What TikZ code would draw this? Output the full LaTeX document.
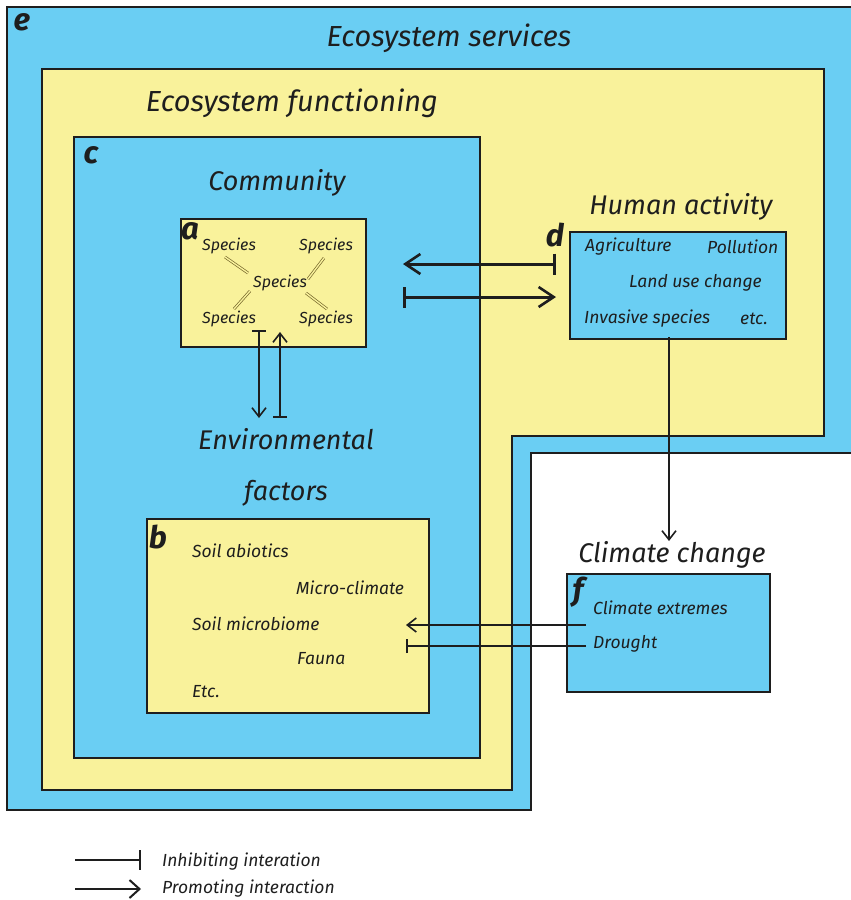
\documentclass[tikz,border=0pt]{standalone}
\usepackage{fontspec}
\setmainfont{Fira Sans}
\usetikzlibrary{arrows.meta}
\definecolor{skyb}{RGB}{106,206,243}
\definecolor{pale}{RGB}{249,242,155}
\definecolor{ink}{RGB}{30,30,30}
\definecolor{olivel}{RGB}{120,105,45}
\tikzset{
  region/.style={draw=ink, line width=2.4pt},
  box/.style={draw=ink, line width=2.4pt, inner sep=0pt, anchor=north west},
  big/.style={font=\fontsize{27}{31}\selectfont\itshape, text=ink, inner sep=0pt},
  huge/.style={font=\fontsize{29}{33}\selectfont\itshape, text=ink, inner sep=0pt},
  small/.style={font=\fontsize{17.5}{20}\selectfont\itshape, text=ink, inner sep=0pt},
  spec/.style={font=\fontsize{16}{19}\selectfont\itshape, text=ink, inner sep=0pt},
  letter/.style={font=\fontsize{31}{34}\selectfont\itshape\bfseries, text=ink, inner sep=0pt},
  bigbarb/.tip={Straight Barb[length=15pt,width=20pt,line width=2.6pt]},
  bigbar/.tip={Bar[width=21pt,line width=2.6pt]},
  barb/.tip={Straight Barb[length=9pt,width=14pt,line width=1.6pt]},
  bar/.tip={Bar[width=14pt,line width=1.6pt]},
  thickc/.style={line width=3pt, draw=ink},
  thinc/.style={line width=1.7pt, draw=ink},
  pair/.style={draw=olivel, line width=0.7pt, double=pale, double distance=1.4pt}
}
\begin{document}
\begin{tikzpicture}[x=1pt,y=-1pt]
\useasboundingbox (0,0) rectangle (851,900);
\fill[white] (0,0) rectangle (851,900);
% e region
\draw[region, fill=skyb] (7,7) -- (858,7) -- (858,453) -- (531,453) -- (531,810) -- (7,810) -- cycle;
% ecosystem functioning region
\draw[region, fill=pale] (42,69) -- (824,69) -- (824,436) -- (512,436) -- (512,790) -- (42,790) -- cycle;
% c
\node[box, fill=skyb, minimum width=406pt, minimum height=621pt] (c) at (73,136) {};
% a
\node[box, fill=pale, minimum width=185pt, minimum height=128pt] (a) at (180,218) {};
% b
\node[box, fill=pale, minimum width=282pt, minimum height=194pt] (b) at (146,518) {};
% d
\node[box, fill=skyb, minimum width=216pt, minimum height=107pt] (d) at (569,231) {};
% f
\node[box, fill=skyb, minimum width=203pt, minimum height=118pt] (f) at (566,573) {};

% titles
\node[huge] (tes) at (449,38) {Ecosystem services};
\node[huge] (tef) at (292,103) {Ecosystem functioning};
\node[big] (tcom) at (277,183) {Community};
\node[big] (tha) at (681,207) {Human activity};
\node[big] (tenv) at (286,439) {Environmental};
\node[big] (tfac) at (286,493) {factors};
\node[big] (tcc) at (672,555) {Climate change};

% letters
\node[letter] (le) at (22,22) {e};
\node[letter] (lc) at (91,155) {c};
\node[letter] (la) at (190,231) {a};
\node[letter] (ld) at (555,235) {d};
\node[letter] (lb) at (158,537) {b};
\node[letter] (lf) at (578,592) {f};

% species
\node[spec] (s1) at (229,246) {Species};
\node[spec] (s2) at (326,246) {Species};
\node[spec] (s0) at (280,283) {Species};
\node[spec] (s3) at (229,319) {Species};
\node[spec] (s4) at (326,319) {Species};
\draw[pair] (225,257) -- (248,273);
\draw[pair] (324,258) -- (308,279);
\draw[pair] (250,291) -- (234,309);
\draw[pair] (306,293) -- (327,309);

% human activity items
\node[small, anchor=west] (h1) at (585,247) {Agriculture};
\node[small, anchor=west] (h2) at (707,247) {Pollution};
\node[small, anchor=west] (h3) at (629,283) {Land use change};
\node[small, anchor=west] (h4) at (584,319) {Invasive species};
\node[small, anchor=west] (h5) at (740,319) {etc.};

% environmental items
\node[small, anchor=west] (b1) at (192,551) {Soil abiotics};
\node[small, anchor=west] (b2) at (296,588) {Micro-climate};
\node[small, anchor=west] (b3) at (192,624) {Soil microbiome};
\node[small, anchor=west] (b4) at (297,659) {Fauna};
\node[small, anchor=west] (b5) at (192,692) {Etc.};

% climate items
\node[small, anchor=west] (f1) at (593,608) {Climate extremes};
\node[small, anchor=west] (f2) at (593,644) {Drought};

% connector end points
\coordinate (adA) at (556,264);
\coordinate (adB) at (403,264);
\coordinate (daA) at (403,297);
\coordinate (daB) at (556,297);
\coordinate (aeA) at (259,330);
\coordinate (aeB) at (259,418);
\coordinate (eaA) at (280,418);
\coordinate (eaB) at (280,332);
\coordinate (dfA) at (669,337);
\coordinate (dfB) at (669,541);
\coordinate (fbA) at (586,625);
\coordinate (fbB) at (406,625);
\coordinate (fcA) at (586,646);
\coordinate (fcB) at (406,646);

\draw[thickc, bigbar-bigbarb] (adA) -- (adB);
\draw[thickc, bigbar-bigbarb] (daA) -- (daB);
\draw[thinc, bar-barb] (aeA) -- (aeB);
\draw[thinc, bar-barb] (eaA) -- (eaB);
\draw[thinc, -barb] (dfA) -- (dfB);
\draw[thinc, -barb] (fbA) -- (fbB);
\draw[thinc, -bar] (fcA) -- (fcB);

% legend
\coordinate (lg1a) at (75,860);
\coordinate (lg1b) at (141,860);
\coordinate (lg2a) at (75,889);
\coordinate (lg2b) at (141,889);
\draw[line width=2.2pt, draw=ink, -{Bar[width=20pt,line width=2pt]}] (lg1a) -- (lg1b);
\draw[line width=2.2pt, draw=ink, -{Straight Barb[length=10pt,width=18pt,line width=2pt]}] (lg2a) -- (lg2b);
\node[small, anchor=west] (lgt1) at (162,862) {Inhibiting interation};
\node[small, anchor=west] (lgt2) at (162,889) {Promoting interaction};
\end{tikzpicture}
\end{document}
